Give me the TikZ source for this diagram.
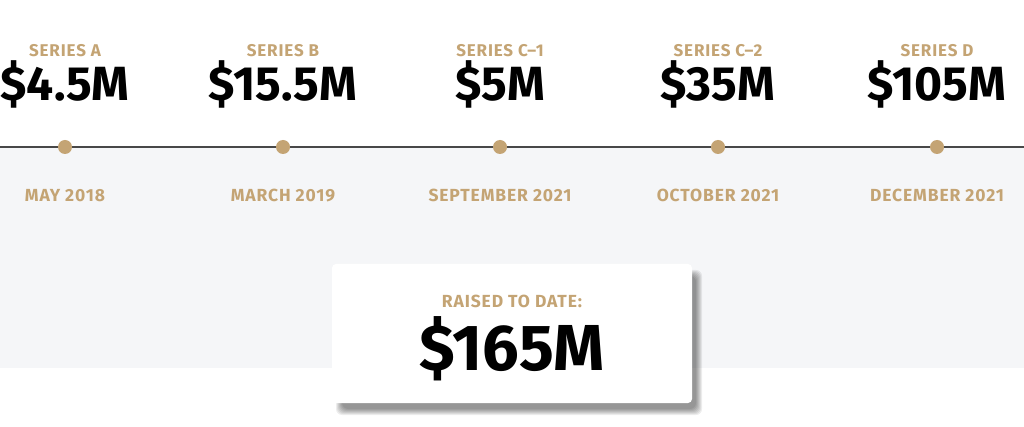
\documentclass[tikz,border=0pt]{standalone}
\usepackage{fontspec}
\setmainfont{Fira Sans}
\usetikzlibrary{positioning}
\definecolor{gold}{RGB}{196,164,116}
\definecolor{panelgray}{RGB}{245,246,248}
\definecolor{linegray}{RGB}{72,72,72}
\tikzset{
  series/.style={text=gold, anchor=base, inner sep=0pt, font=\fontsize{17}{17}\selectfont\bfseries\addfontfeatures{LetterSpace=5}},
  amount/.style={text=black, anchor=base, inner sep=0pt, font=\fontsize{48}{48}\selectfont\bfseries},
  datelbl/.style={text=gold, anchor=base, inner sep=0pt, font=\fontsize{17.5}{17.5}\selectfont\bfseries\addfontfeatures{LetterSpace=5}},
  milestone/.style={circle, fill=gold, minimum size=14pt, inner sep=0pt},
  raisedbox/.style={fill=white, rounded corners=4pt, minimum width=360pt, minimum height=139pt, inner sep=0pt},
}
\begin{document}
\begin{tikzpicture}[x=1pt, y=-1pt]
    \useasboundingbox (0, 0) rectangle (1024, 427);
    \fill[white] (0, 0) rectangle (1024, 427);
    \fill[panelgray] (0, 147) rectangle (1024, 368);
    \coordinate (line-l) at (0, 147);
    \coordinate (line-r) at (1024, 147);
    \draw[linegray, line width=1.3pt] (line-l) -- (line-r);
    \foreach \name/\x/\series/\amount/\date in {a/65/SERIES A/\$4.5M/MAY 2018, b/283/SERIES B/\$15.5M/MARCH 2019, c1/500/SERIES C–1/\$5M/SEPTEMBER 2021, c2/718/SERIES C–2/\$35M/OCTOBER 2021, d/937/SERIES D/\$105M/DECEMBER 2021} {
        \node[milestone] (dot-\name) at (\x, 147) {};
        \node[series] (series-\name) at (\x, 57) {\series};
        \node[amount] (amount-\name) at (\x, 101) {\amount};
        \node[datelbl] (date-\name) at (\x, 202) {\date};
    };
    % soft shadow under the total
    \foreach \s in {-3, ..., 3} {
        \fill[black, fill opacity=0.07, rounded corners=6pt] (339 - \s, 273 - \s) rectangle (699 + \s, 412 + \s);
    };
    \node[raisedbox] (raised) at (512, 333.5) {};
    \node[series, font=\fontsize{17.5}{17.5}\selectfont\bfseries\addfontfeatures{LetterSpace=5}] (raised-lbl) at (512, 308) {RAISED TO DATE:};
    \node[amount, font=\fontsize{65}{65}\selectfont\bfseries] (raised-total) at (512, 370) {\$165M};
\end{tikzpicture}
\end{document}
